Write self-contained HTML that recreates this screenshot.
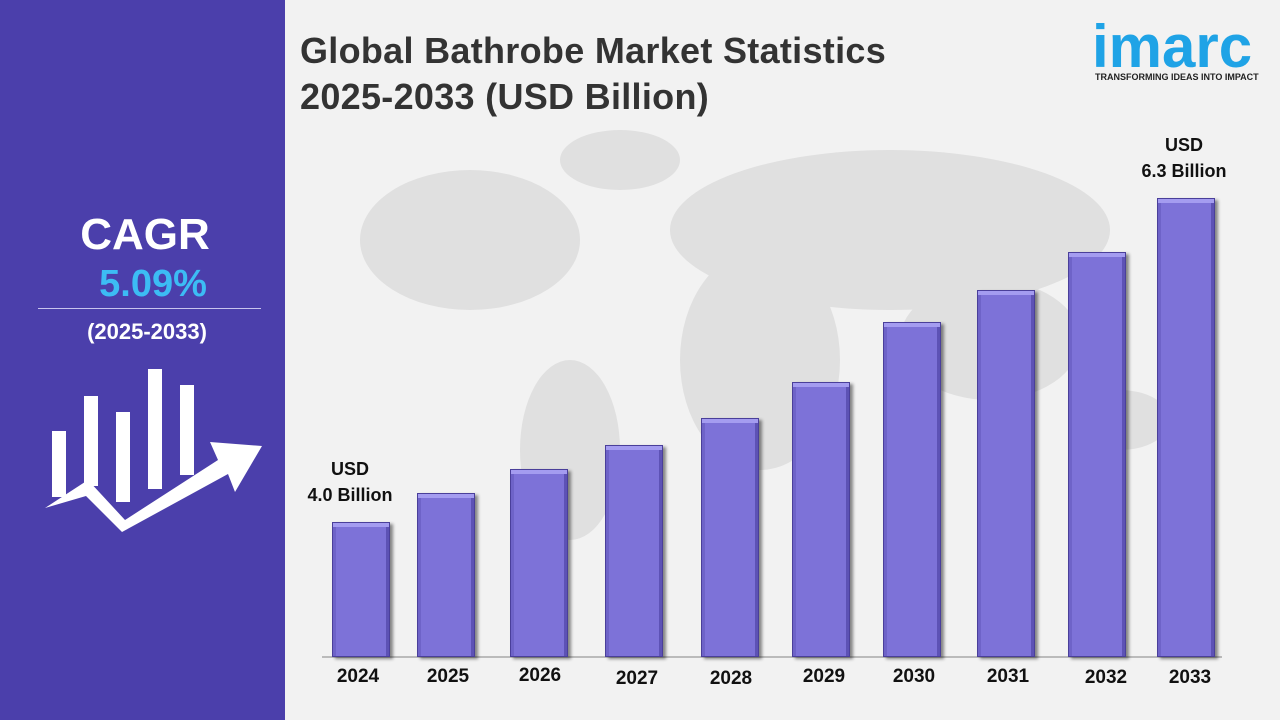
<!DOCTYPE html>
<html><head><style>
body{margin:0;width:1280px;height:720px;overflow:hidden;background:#f2f2f2;font-family:"Liberation Sans",Arial,sans-serif;position:relative}
.left{position:absolute;left:0;top:0;width:285px;height:720px;background:#4b3fab}
.t{position:absolute;font-weight:bold}
.bar{position:absolute;width:58px;background:#7d72d8;border:1px solid #4a3f9a;box-shadow:3px 2px 3px rgba(0,0,0,0.45), inset 0 4px 0 #a49cf0, inset -3px 0 0 #5d52b5, inset 3px 0 0 #6e63c8;box-sizing:border-box}
.yr{position:absolute;top:666px;width:80px;text-align:center;font-weight:bold;font-size:19px;color:#111}
</style></head><body>
<div class="left"></div>
<div class="t" style="left:0;width:290px;text-align:center;top:210px;font-size:44px;color:#fff">CAGR</div>
<div class="t" style="left:8px;width:290px;text-align:center;top:263px;font-size:38px;color:#3cbcf4">5.09%</div>
<div style="position:absolute;left:38px;top:308px;width:223px;height:1px;background:#c8c4ee"></div>
<div class="t" style="left:0;width:294px;text-align:center;top:319px;font-size:22px;color:#fff">(2025-2033)</div>
<svg style="position:absolute;left:0;top:360px" width="290" height="180">
<g fill="#fff">
<rect x="52" y="71" width="14" height="66"/><rect x="84" y="36" width="14" height="90"/><rect x="116" y="52" width="14" height="90"/><rect x="148" y="9" width="14" height="120"/><rect x="180" y="25" width="14" height="90"/>
<polygon points="45,148 88,120 125,160 218,100 210,82 262,86 235,132 228,114 122,172 86,136"/>
</g></svg>
<svg style="position:absolute;left:290px;top:120px" width="990" height="420">
<g fill="#e0e0e0">
<ellipse cx="180" cy="120" rx="110" ry="70"/><ellipse cx="330" cy="40" rx="60" ry="30"/>
<ellipse cx="280" cy="330" rx="50" ry="90"/><ellipse cx="470" cy="240" rx="80" ry="110"/>
<ellipse cx="600" cy="110" rx="220" ry="80"/><ellipse cx="700" cy="220" rx="90" ry="60"/>
<ellipse cx="830" cy="300" rx="50" ry="30"/>
</g></svg>
<div class="t" style="left:300px;top:28px;font-size:36px;color:#333;line-height:46px;letter-spacing:0.3px">Global Bathrobe Market Statistics<br>2025-2033 (USD Billion)</div>
<div class="t" style="left:1092px;top:14px;font-size:60px;color:#1fa3e6;letter-spacing:0px;line-height:66px">imarc</div>
<div class="t" style="left:1095px;top:72px;font-size:9px;color:#222">TRANSFORMING IDEAS INTO IMPACT</div>
<div style="position:absolute;left:322px;top:656px;width:900px;height:2px;background:#bbb"></div>
<div class="bar" style="left:332px;top:522px;height:135px"></div>
<div class="bar" style="left:417px;top:493px;height:164px"></div>
<div class="bar" style="left:510px;top:469px;height:188px"></div>
<div class="bar" style="left:605px;top:445px;height:212px"></div>
<div class="bar" style="left:701px;top:418px;height:239px"></div>
<div class="bar" style="left:792px;top:382px;height:275px"></div>
<div class="bar" style="left:883px;top:322px;height:335px"></div>
<div class="bar" style="left:977px;top:290px;height:367px"></div>
<div class="bar" style="left:1068px;top:252px;height:405px"></div>
<div class="bar" style="left:1157px;top:198px;height:459px"></div>
<div class="yr" style="left:318px">2024</div><div class="yr" style="left:408px">2025</div>
<div class="yr" style="left:500px;top:665px">2026</div><div class="yr" style="left:597px;top:668px">2027</div>
<div class="yr" style="left:691px;top:668px">2028</div><div class="yr" style="left:784px">2029</div>
<div class="yr" style="left:874px">2030</div><div class="yr" style="left:968px">2031</div>
<div class="yr" style="left:1066px;top:667px">2032</div><div class="yr" style="left:1150px;top:667px">2033</div>
<div class="t" style="left:300px;width:100px;text-align:center;top:456px;font-size:18px;color:#111;line-height:26px">USD<br>4.0 Billion</div>
<div class="t" style="left:1134px;width:100px;text-align:center;top:132px;font-size:18px;color:#111;line-height:26px">USD<br>6.3 Billion</div>
</body></html>
